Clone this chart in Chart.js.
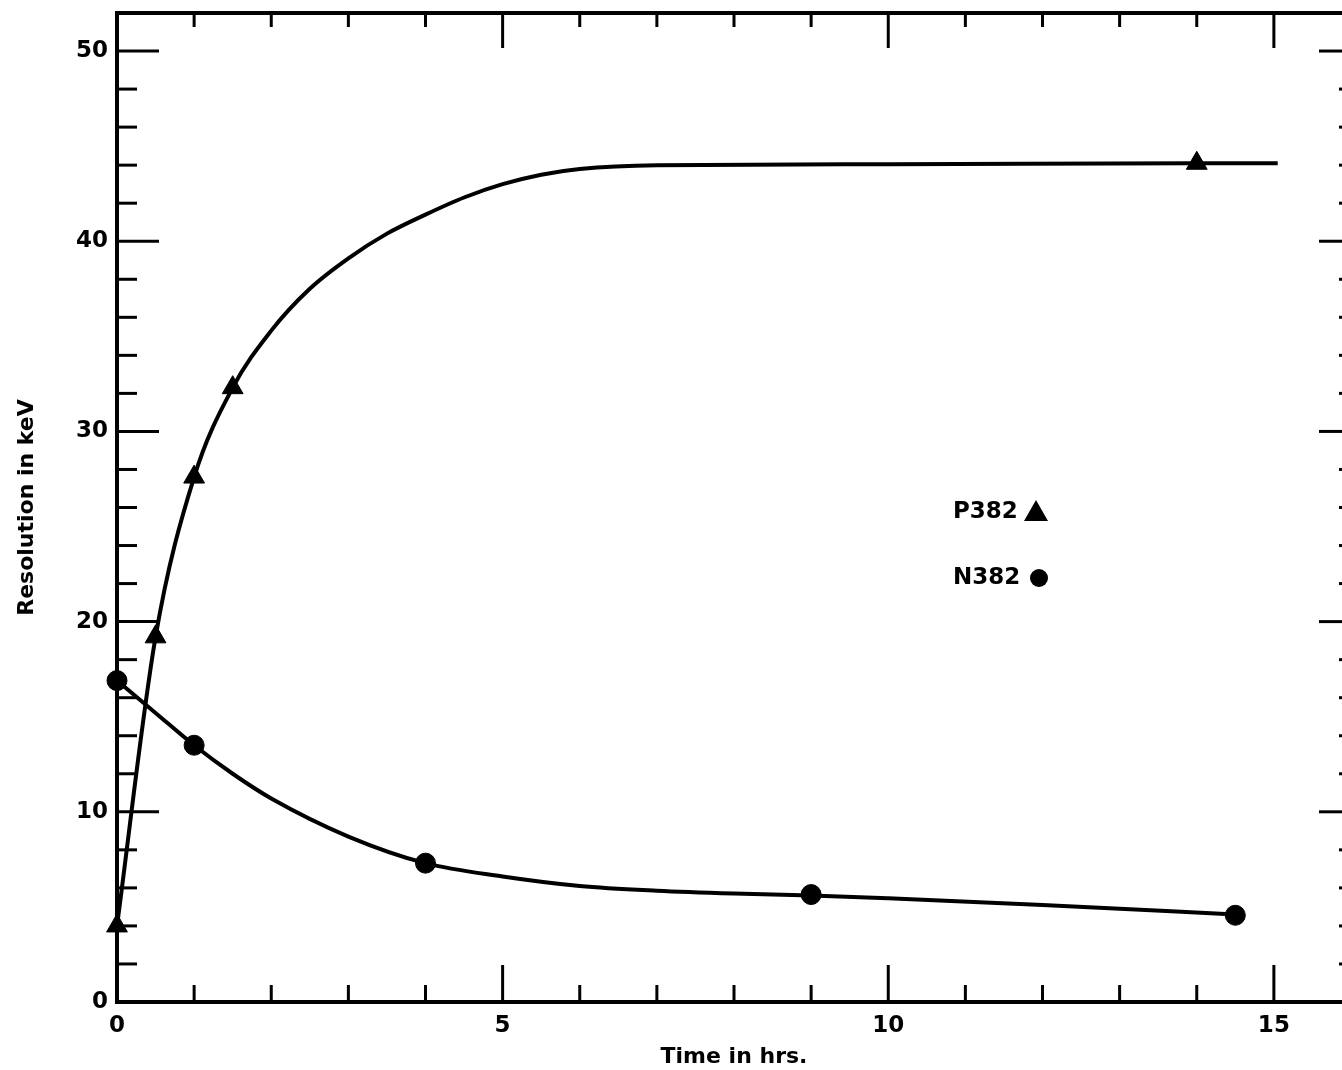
<!DOCTYPE html>
<html lang="en">
<head>
<meta charset="utf-8">
<title>Resolution vs time</title>
<script src="https://cdn.jsdelivr.net/npm/chart.js@4.4.0/dist/chart.umd.min.js"></script>
<style>
  html, body { margin: 0; padding: 0; background: #fff; overflow: hidden; }
  #wrap { width: 1342px; height: 1070px; overflow: hidden; }
</style>
</head>
<body>
<div id="wrap"><canvas id="chart" width="1364" height="1070"></canvas></div>
<script>
var pTime = [0, 0.5, 1, 1.5, 14];
var pRes  = [4.0, 19.2, 27.6, 32.3, 44.1];
var nTime = [0, 1, 4, 9, 14.5];
var nRes  = [16.9, 13.5, 7.3, 5.65, 4.56];

// hand drawn curves through the points, also
var pCurveTime = [0, 0.5, 1, 1.5, 2, 2.5, 3, 3.5, 4, 4.5, 5, 5.5, 6, 7, 10, 14, 15.05];
var pCurveRes  = [4.0, 19.2, 27.6, 32.3, 35.3, 37.5, 39.1, 40.4, 41.4, 42.3, 43.0, 43.5, 43.8, 44.0, 44.05, 44.1, 44.1];
var nCurveTime = [0, 0.5, 1, 1.5, 2, 3, 4, 5, 6, 7, 8, 9, 10, 12, 14.5];
var nCurveRes  = [16.9, 15.2, 13.5, 12.0, 10.7, 8.7, 7.3, 6.6, 6.1, 5.85, 5.7, 5.6, 5.45, 5.1, 4.6];

var xLabels = [0, 5, 10, 15];
var yLabels = [0, 10, 20, 30, 40, 50];

function pts(xs, ys) {
  return xs.map(function (x, i) { return { x: x, y: ys[i] }; });
}

var tickFont = { family: '"DejaVu Sans"', size: 23, weight: 'bold' };
var titleFont = { family: '"DejaVu Sans"', size: 22, weight: 'bold' };

// inward ticks and frame, like the original plot
var framePlugin = {
  id: 'frame',
  beforeDatasetsDraw: function (chart) {
    var ctx = chart.ctx, a = chart.chartArea;
    var sx = chart.scales.x, sy = chart.scales.y;
    function line(x1, y1, x2, y2) {
      ctx.beginPath(); ctx.moveTo(x1, y1); ctx.lineTo(x2, y2); ctx.stroke();
    }
    ctx.save();
    ctx.strokeStyle = '#000';
    ctx.lineWidth = 4;
    ctx.strokeRect(a.left, a.top, a.right - a.left, a.bottom - a.top);
    ctx.lineWidth = 3;
    for (var t = 1; t < 16; t++) {
      var px = sx.getPixelForValue(t);
      var big = t % 5 === 0;
      line(px, a.bottom, px, a.bottom - (big ? 37 : 17));
      line(px, a.top, px, a.top + (big ? 35 : 14));
    }
    for (var v = 2; v < 52; v += 2) {
      var py = sy.getPixelForValue(v);
      var major = v % 10 === 0;
      line(a.left, py, a.left + (major ? 42 : 20), py);
      line(a.right, py, a.right - (major ? 32 : 12), py);
    }
    ctx.restore();
  },
  afterDraw: function (chart) {
    var ctx = chart.ctx;
    ctx.save();
    ctx.fillStyle = '#000';
    ctx.font = 'bold 23px "DejaVu Sans"';
    ctx.textBaseline = 'middle';
    ctx.textAlign = 'left';
    ctx.fillText('P382', 953, 512);
    ctx.fillText('N382', 953, 578);
    // key markers
    ctx.beginPath();
    ctx.moveTo(1036, 500);
    ctx.lineTo(1048, 521);
    ctx.lineTo(1024, 521);
    ctx.closePath();
    ctx.fill();
    ctx.beginPath();
    ctx.arc(1039, 578, 9, 0, Math.PI * 2);
    ctx.fill();
    ctx.restore();
  }
};

var chart = new Chart(document.getElementById('chart').getContext('2d'), {
  type: 'scatter',
  data: {
    datasets: [
      {
        label: 'P382 curve',
        type: 'line',
        data: pts(pCurveTime, pCurveRes),
        borderColor: '#000',
        borderWidth: 4,
        pointRadius: 0,
        cubicInterpolationMode: 'monotone',
        fill: false,
        clip: false
      },
      {
        label: 'N382 curve',
        type: 'line',
        data: pts(nCurveTime, nCurveRes),
        borderColor: '#000',
        borderWidth: 4,
        pointRadius: 0,
        cubicInterpolationMode: 'monotone',
        fill: false,
        clip: false
      },
      {
        label: 'P382',
        data: pts(pTime, pRes),
        pointStyle: 'triangle',
        pointRadius: 12,
        backgroundColor: '#000',
        borderColor: '#000',
        borderWidth: 1,
        clip: false
      },
      {
        label: 'N382',
        data: pts(nTime, nRes),
        pointStyle: 'circle',
        pointRadius: 10,
        backgroundColor: '#000',
        borderColor: '#000',
        borderWidth: 1,
        clip: false
      }
    ]
  },
  options: {
    responsive: false,
    animation: false,
    devicePixelRatio: 1,
    layout: { padding: { top: 10, right: 2, left: 0, bottom: 0 } },
    plugins: {
      legend: { display: false },
      tooltip: { enabled: false }
    },
    scales: {
      x: {
        type: 'linear',
        min: 0,
        max: 16,
        grid: { display: false, drawTicks: false },
        border: { display: false },
        ticks: {
          stepSize: 1,
          autoSkip: false,
          maxRotation: 0,
          padding: 10,
          color: '#000',
          font: tickFont,
          callback: function (v) { return xLabels.indexOf(v) >= 0 ? String(v) : ''; }
        },
        title: {
          display: true,
          text: 'Time in hrs.',
          color: '#000',
          font: titleFont,
          padding: { top: 0, bottom: 0 }
        },
        afterFit: function (s) {
          s.height = 68;
          s.paddingLeft = 0;
          s.paddingRight = 0;
        }
      },
      y: {
        type: 'linear',
        min: 0,
        max: 52,
        grid: { display: false, drawTicks: false },
        border: { display: false },
        ticks: {
          stepSize: 2,
          autoSkip: false,
          padding: 9,
          color: '#000',
          font: tickFont,
          callback: function (v) { return yLabels.indexOf(v) >= 0 ? v : null; }
        },
        title: {
          display: true,
          text: 'Resolution in keV',
          color: '#000',
          font: titleFont,
          padding: { top: 14, bottom: 0 }
        },
        afterFit: function (s) {
          s.width = 117;
          s.paddingTop = 0;
          s.paddingBottom = 0;
        }
      }
    }
  },
  plugins: [framePlugin]
});
</script>
</body>
</html>
